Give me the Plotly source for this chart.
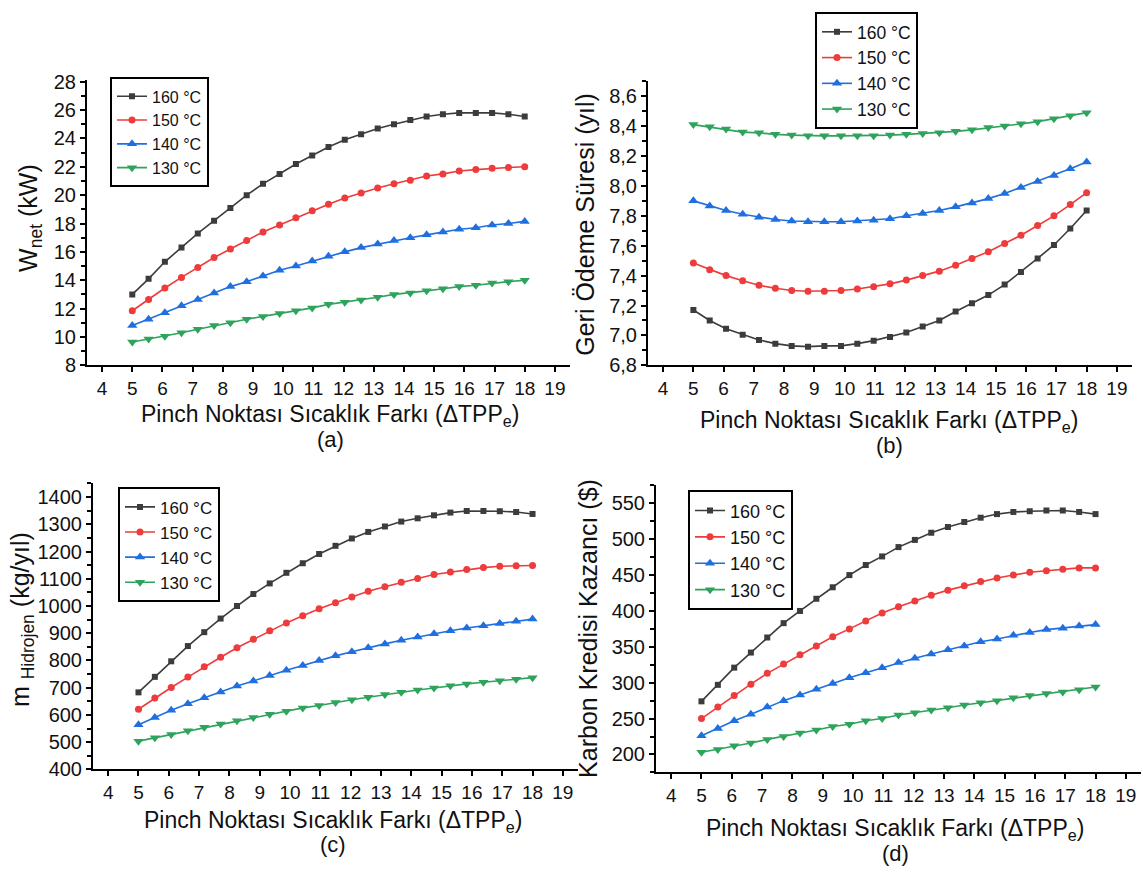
import plotly.graph_objects as go

# ---------------- data ----------------
dtpp = [5.0, 5.54, 6.08, 6.63, 7.17, 7.71, 8.25, 8.79, 9.33, 9.88, 10.42, 10.96, 11.5,
        12.04, 12.58, 13.13, 13.67, 14.21, 14.75, 15.29, 15.83, 16.38, 16.92, 17.46, 18.0]
series_names = ["160 °C", "150 °C", "140 °C", "130 °C"]

wnet_160 = [13.0, 14.1, 15.3, 16.3, 17.3, 18.2, 19.1, 20.0, 20.8, 21.5, 22.2, 22.8, 23.4,
            23.9, 24.3, 24.7, 25.0, 25.3, 25.55, 25.7, 25.8, 25.8, 25.8, 25.7, 25.55]
wnet_150 = [11.85, 12.65, 13.45, 14.2, 14.9, 15.6, 16.2, 16.8, 17.4, 17.9, 18.4, 18.9, 19.35,
            19.8, 20.15, 20.5, 20.8, 21.05, 21.35, 21.5, 21.7, 21.8, 21.9, 21.95, 22.0]
wnet_140 = [10.8, 11.25, 11.7, 12.2, 12.65, 13.1, 13.55, 13.9, 14.3, 14.7, 15.0, 15.35, 15.7,
            16.0, 16.3, 16.55, 16.8, 17.0, 17.2, 17.4, 17.6, 17.7, 17.9, 18.0, 18.15]
wnet_130 = [9.65, 9.85, 10.05, 10.3, 10.55, 10.8, 11.0, 11.25, 11.45, 11.65, 11.85, 12.05, 12.3,
            12.45, 12.6, 12.8, 13.0, 13.1, 13.25, 13.4, 13.55, 13.65, 13.8, 13.9, 14.0]

payback_160 = [7.17, 7.10, 7.045, 7.005, 6.97, 6.945, 6.93, 6.925, 6.93, 6.93, 6.945, 6.965, 6.99,
               7.02, 7.06, 7.10, 7.16, 7.215, 7.27, 7.34, 7.425, 7.515, 7.605, 7.715, 7.835]
payback_150 = [7.485, 7.44, 7.40, 7.365, 7.335, 7.315, 7.30, 7.295, 7.295, 7.30, 7.31, 7.325, 7.345,
               7.37, 7.40, 7.43, 7.47, 7.515, 7.56, 7.615, 7.67, 7.735, 7.80, 7.875, 7.955]
payback_140 = [7.90, 7.865, 7.835, 7.81, 7.79, 7.775, 7.765, 7.76, 7.76, 7.76, 7.765, 7.77, 7.78,
               7.80, 7.815, 7.835, 7.86, 7.885, 7.915, 7.95, 7.99, 8.03, 8.07, 8.115, 8.16]
payback_130 = [8.41, 8.395, 8.38, 8.36, 8.355, 8.345, 8.34, 8.335, 8.335, 8.335, 8.335, 8.335, 8.34,
               8.345, 8.35, 8.355, 8.365, 8.375, 8.39, 8.40, 8.415, 8.43, 8.45, 8.47, 8.49]

h2_160 = [683, 740, 797, 853, 904, 954, 1000, 1044, 1083, 1122, 1157, 1191, 1221,
          1248, 1272, 1292, 1310, 1322, 1333, 1343, 1349, 1349, 1348, 1345, 1338]
h2_150 = [621, 662, 701, 739, 777, 812, 847, 878, 909, 938, 964, 990, 1012,
          1033, 1054, 1071, 1087, 1101, 1116, 1125, 1134, 1141, 1146, 1148, 1149]
h2_140 = [564, 591, 617, 641, 663, 684, 706, 725, 745, 764, 782, 800, 817,
          832, 847, 861, 874, 886, 898, 909, 919, 928, 936, 944, 952]
h2_130 = [504, 516, 528, 542, 555, 567, 579, 591, 603, 614, 626, 635, 646,
          656, 665, 675, 683, 692, 699, 707, 714, 720, 726, 731, 737]

carbon_160 = [274, 297, 321, 342, 363, 383, 400, 417, 433, 450, 464, 476, 489,
              499, 509, 517, 524, 530, 535, 538, 539, 540, 540, 538, 535]
carbon_150 = [250, 266, 282, 298, 313, 326, 339, 351, 364, 375, 386, 397, 406,
              414, 422, 429, 435, 441, 446, 450, 454, 456, 458, 460, 460]
carbon_140 = [226, 236, 247, 256, 266, 275, 283, 291, 299, 307, 314, 321, 328,
              334, 340, 346, 351, 357, 361, 366, 370, 374, 376, 379, 381]
carbon_130 = [203, 207, 212, 216, 221, 225, 230, 234, 239, 242, 247, 250, 255,
              258, 262, 265, 269, 272, 275, 279, 282, 285, 287, 290, 294]

x_title = "Pinch Noktası Sıcaklık Farkı (ΔTPP<sub>e</sub>)"
panel_labels = ["(a)", "(b)", "(c)", "(d)"]
y_titles = ["W<sub>net</sub> (kW)", "Geri Ödeme Süresi (yıl)",
            "m <sub>Hidrojen</sub> (kg/yıl)", "Karbon Kredisi Kazancı ($)"]

# ---------------- styling ----------------
FONT = "Liberation Sans, Arial, sans-serif"
colors = ["#3c3c3c", "#ee3b3b", "#1f6fe0", "#2ea35c"]
symbols = ["square", "circle", "triangle-up", "triangle-down"]
msizes = [6, 7, 9, 9]

W, H = 1143, 881

def px_dom_x(a, b):
    return [a / W, b / W]

def px_dom_y(top, bottom):
    return [1 - bottom / H, 1 - top / H]

panels = [
    dict(data=[wnet_160, wnet_150, wnet_140, wnet_130], xd=(87, 570), yd=(72, 364),
         yr=[8, 28.1], dt=2, mdt=1, fmt="d", leg=(110, 69), lfs=16),
    dict(data=[payback_160, payback_150, payback_140, payback_130], xd=(648, 1132), yd=(73, 364),
         yr=[6.8, 8.7], dt=0.2, mdt=0.1, fmt=".1f", leg=(815, 2), lfs=17.5),
    dict(data=[h2_160, h2_150, h2_140, h2_130], xd=(93, 578), yd=(485, 778),
         yr=[400, 1450], dt=100, mdt=50, fmt="d", leg=(118, 489), lfs=17),
    dict(data=[carbon_160, carbon_150, carbon_140, carbon_130], xd=(656, 1141), yd=(487, 781),
         yr=[175, 575], dt=50, mdt=25, fmt="d", leg=(688, 492), lfs=18),
]

fig = go.Figure()
layout = dict(
    width=W, height=H, margin=dict(l=0, r=0, t=0, b=0),
    paper_bgcolor="white", plot_bgcolor="white",
    font=dict(family=FONT, color="#111111", size=19),
    separators=",.",
    annotations=[],
)

for i, p in enumerate(panels):
    n = i + 1
    xa = "x" if n == 1 else f"x{n}"
    ya = "y" if n == 1 else f"y{n}"
    leg = "legend" if n == 1 else f"legend{n}"
    for j in range(4):
        fig.add_trace(go.Scatter(
            x=dtpp, y=p["data"][j], mode="lines+markers", name=series_names[j],
            line=dict(color=colors[j], width=1.6),
            marker=dict(symbol=symbols[j], size=msizes[j], color=colors[j]),
            xaxis=xa, yaxis=ya, legend=leg, showlegend=True,
        ))
    axis_common = dict(showline=True, linecolor="black", linewidth=2, ticks="outside",
                       ticklen=5, tickwidth=2, tickcolor="black", showgrid=False,
                       zeroline=False, mirror=False)
    layout[f"xaxis{'' if n == 1 else n}"] = dict(
        axis_common, domain=px_dom_x(*p["xd"]), anchor=ya, range=[3.5, 19.5],
        tick0=0, dtick=1, tickfont=dict(size=19), fixedrange=True)
    layout[f"yaxis{'' if n == 1 else n}"] = dict(
        axis_common, domain=px_dom_y(*p["yd"]), anchor=xa, range=p["yr"],
        tick0=0, dtick=p["dt"], tickformat=p["fmt"], tickfont=dict(size=20),
        minor=dict(ticks="outside", ticklen=4, tickwidth=1.5, tickcolor="black", dtick=p["mdt"], tick0=0),
        fixedrange=True)
    layout[leg] = dict(
        x=p["leg"][0] / W, y=1 - p["leg"][1] / H, xanchor="left", yanchor="top",
        xref="paper", yref="paper",
        bgcolor="white", bordercolor="black", borderwidth=2,
        font=dict(size=p["lfs"], family=FONT), tracegroupgap=0)

# axis titles and panel labels as annotations
xt_pos = [(330, 415, 440), (889, 422, 446), (333, 831, 855), (895, 840, 864)]
yt_pos = [(30, 213), (585, 220), (22, 625), (588, 634)]
for i in range(4):
    cx, ty, ly = xt_pos[i]
    layout["annotations"].append(dict(
        text=x_title, x=cx / W, y=1 - ty / H, xref="paper", yref="paper",
        showarrow=False, xanchor="center", yanchor="middle", font=dict(size=23)))
    layout["annotations"].append(dict(
        text=panel_labels[i], x=cx / W, y=1 - ly / H, xref="paper", yref="paper",
        showarrow=False, xanchor="center", yanchor="middle", font=dict(size=22)))
    yx, yy = yt_pos[i]
    layout["annotations"].append(dict(
        text=y_titles[i], x=yx / W, y=1 - yy / H, xref="paper", yref="paper",
        showarrow=False, xanchor="center", yanchor="middle", textangle=-90,
        font=dict(size=25)))

fig.update_layout(**layout)
fig.write_html("out.html")
